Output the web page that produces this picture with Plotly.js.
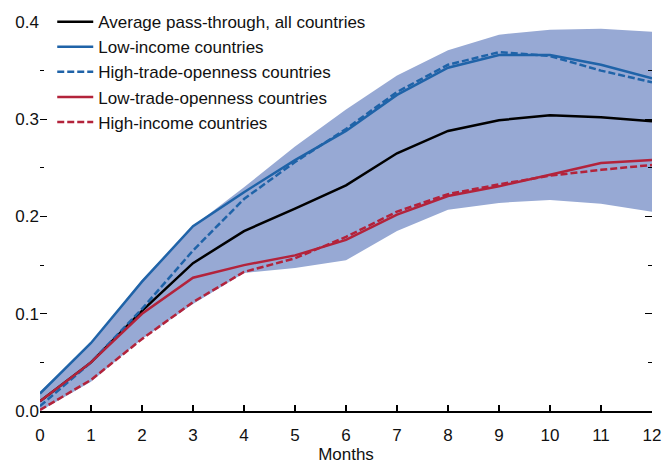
<!DOCTYPE html>
<html><head><meta charset="utf-8">
<script src="https://cdn.plot.ly/plotly-3.0.1.min.js"></script>
<style>html,body{margin:0;padding:0;background:#fff}#c{width:663px;height:464px}</style>
</head><body><div id="c"></div>
<script>
const months = [0,1,2,3,4,5,6,7,8,9,10,11,12];
const bandUpper = [0.020,0.070,0.135,0.190,0.230,0.272,0.310,0.345,0.371,0.387,0.392,0.393,0.390];
const bandLower = [0.000,0.030,0.074,0.110,0.142,0.147,0.155,0.185,0.207,0.214,0.217,0.213,0.205];
const average = [0.010,0.050,0.103,0.152,0.185,0.208,0.232,0.265,0.288,0.299,0.304,0.302,0.298];
const lowIncome = [0.018,0.070,0.133,0.190,0.225,0.258,0.288,0.325,0.353,0.366,0.366,0.356,0.342];
const highTrade = [0.005,0.050,0.105,0.165,0.218,0.256,0.290,0.328,0.356,0.369,0.365,0.350,0.338];
const lowTrade = [0.010,0.050,0.100,0.137,0.150,0.160,0.176,0.202,0.221,0.231,0.243,0.255,0.258];
const highIncome = [0.001,0.032,0.074,0.112,0.143,0.157,0.179,0.205,0.223,0.233,0.242,0.248,0.253];
const names = ["Average pass-through, all countries","Low-income countries","High-trade-openness countries","Low-trade-openness countries","High-income countries"];

const BLUE = "#1f63a8", RED = "#b3233b", BAND = "#97a9d4";
const FONT = "Liberation Sans, Arial, sans-serif";
const DASH = "7px,3px";

const traces = [
  {x: months, y: bandLower, mode: "lines", line: {width: 0}, showlegend: false, hoverinfo: "skip"},
  {x: months, y: bandUpper, mode: "lines", line: {width: 0}, fill: "tonexty", fillcolor: BAND, showlegend: false, hoverinfo: "skip"},
  {x: months, y: average, mode: "lines", name: names[0], line: {color: "#000", width: 2.5}},
  {x: months, y: lowIncome, mode: "lines", name: names[1], line: {color: BLUE, width: 2.5}},
  {x: months, y: highTrade, mode: "lines", name: names[2], line: {color: BLUE, width: 2.5, dash: DASH}},
  {x: months, y: lowTrade, mode: "lines", name: names[3], line: {color: RED, width: 2.5}},
  {x: months, y: highIncome, mode: "lines", name: names[4], line: {color: RED, width: 2.5, dash: DASH}}
];

const layout = {
  width: 663, height: 464,
  margin: {l: 40, r: 11, t: 22, b: 53, autoexpand: false},
  paper_bgcolor: "#fff", plot_bgcolor: "#fff",
  font: {family: FONT, size: 17, color: "#111"},
  showlegend: true,
  legend: {x: 0.02, y: 1.046, xanchor: "left", yanchor: "top", traceorder: "normal", itemwidth: 36, bgcolor: "rgba(0,0,0,0)", font: {size: 17}, tracegroupgap: 0},
  xaxis: {
    range: [0, 12], tickvals: months, ticks: "inside", ticklen: 6, tickwidth: 1.5, tickcolor: "#000",
    showline: true, linecolor: "#000", linewidth: 1.5, showgrid: false, zeroline: false,
    ticklabelstandoff: 8,
    title: {text: "Months", font: {size: 17}, standoff: 2}
  },
  yaxis: {
    range: [0, 0.4], tickvals: [0, 0.1, 0.2, 0.3, 0.4], tickformat: ".1f",
    ticks: "inside", ticklen: 7, tickwidth: 1.2, tickcolor: "#000", mirror: "ticks",
    minor: {dtick: 0.05, ticks: "inside", ticklen: 4, tickcolor: "#000", tickwidth: 1},
    showline: false, showgrid: false, zeroline: false
  }
};
Plotly.newPlot("c", traces, layout, {displayModeBar: false, staticPlot: true});
</script></body></html>
